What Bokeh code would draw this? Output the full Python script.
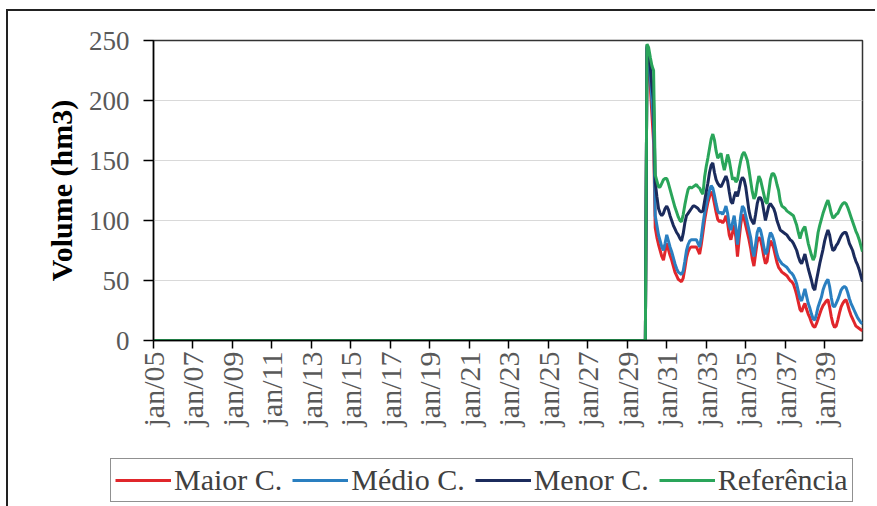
import math
from bokeh.plotting import figure
from bokeh.layouts import column, row
from bokeh.models import FixedTicker, Legend, LegendItem, Range1d
from bokeh.embed import file_html
from bokeh.resources import INLINE

# jan/05 .. dec/29: all series at zero
zero_months = 300
zeros = [0] * zero_months

# jan/30 .. dec/40, one row per year
referencia = [
    247, 244, 236, 229, 225, 138, 133, 128, 128, 131, 134, 135,
    135, 131, 126, 121, 116, 111, 107, 103, 100, 99, 105, 113,
    120, 126, 128, 127, 128, 129, 130, 128, 127, 124, 122, 136,
    145, 152, 160, 168, 172, 167, 158, 152, 154, 156, 148, 142,
    148, 155, 150, 142, 134, 136, 132, 134, 143, 150, 155, 157,
    154, 150, 142, 133, 124, 118, 121, 130, 137, 134, 128, 122,
    116, 114, 124, 134, 139, 139, 136, 130, 125, 116, 112, 111,
    110, 108, 107, 106, 105, 104, 100, 96, 90, 85, 90, 93,
    95, 88, 81, 76, 71, 67, 70, 80, 90, 96, 101, 106,
    110, 114, 117, 112, 106, 102, 103, 105, 106, 109, 112, 114,
    115, 114, 111, 107, 103, 99, 95, 91, 88, 84, 79, 74,
]
menor = [
    246, 240, 228, 212, 200, 132, 120, 110, 106, 104, 106, 110,
    112, 109, 104, 100, 96, 93, 90, 88, 85, 83, 89, 98,
    104, 106, 108, 110, 112, 112, 111, 110, 108, 107, 108, 116,
    124, 131, 140, 146, 148, 140, 134, 131, 129, 128, 131, 134,
    137, 133, 124, 116, 114, 120, 124, 120, 126, 133, 136, 134,
    128, 118, 108, 102, 99, 97, 105, 114, 119, 119, 116, 108,
    100, 106, 112, 114, 112, 110, 106, 100, 96, 92, 91, 90,
    89, 88, 86, 84, 83, 81, 78, 75, 70, 66, 64, 68,
    72, 66, 60, 55, 50, 44, 42, 50, 57, 64, 70, 76,
    83, 88, 92, 88, 80, 75, 76, 79, 81, 84, 87, 89,
    90, 90, 86, 81, 78, 75, 70, 66, 63, 59, 54, 49,
]
medio = [
    245, 236, 220, 200, 180, 104, 96, 88, 83, 78, 75, 81,
    88, 83, 78, 74, 69, 64, 60, 57, 56, 55, 58, 66,
    75, 80, 83, 84, 84, 84, 84, 81, 78, 86, 97, 106,
    113, 120, 125, 129, 127, 121, 114, 108, 106, 107, 105, 108,
    112, 106, 96, 92, 98, 104, 94, 80, 92, 104, 112, 110,
    104, 98, 92, 86, 76, 70, 80, 90, 94, 92, 86, 78,
    72, 74, 84, 90, 88, 84, 78, 72, 68, 66, 64, 63,
    62, 61, 59, 57, 56, 54, 51, 47, 41, 35, 33, 38,
    43, 37, 31, 27, 22, 18, 17, 22, 28, 32, 36, 42,
    46, 49, 51, 45, 36, 29, 28, 31, 34, 38, 42, 44,
    45, 44, 40, 35, 31, 28, 25, 22, 19, 17, 15, 14,
]
maior = [
    244, 232, 212, 188, 165, 94, 86, 80, 75, 70, 67, 74,
    81, 76, 71, 67, 62, 57, 54, 51, 50, 49, 52, 60,
    69, 74, 77, 78, 78, 78, 78, 75, 72, 80, 90, 100,
    108, 115, 120, 124, 121, 114, 107, 101, 99, 100, 98, 100,
    104, 98, 88, 84, 90, 96, 86, 70, 84, 97, 105, 102,
    96, 90, 84, 77, 68, 62, 72, 82, 86, 84, 78, 70,
    64, 66, 76, 83, 81, 77, 71, 65, 61, 59, 57, 56,
    55, 54, 52, 50, 49, 47, 43, 38, 32, 26, 24, 28,
    31, 26, 22, 19, 15, 12, 11, 14, 18, 22, 26, 29,
    31, 33, 34, 28, 20, 14, 11, 12, 17, 23, 28, 31,
    33, 34, 30, 25, 21, 18, 15, 12, 11, 10, 9, 8,
]

tick_labels = ["jan/05", "jan/07", "jan/09", "jan/11", "jan/13", "jan/15",
               "jan/17", "jan/19", "jan/21", "jan/23", "jan/25", "jan/27",
               "jan/29", "jan/31", "jan/33", "jan/35", "jan/37", "jan/39"]
y_ticks = [0, 50, 100, 150, 200, 250]

series_names = ["Maior C.", "Médio C.", "Menor C.", "Referência"]
series_vals = [maior, medio, menor, referencia]
series_colors = ["#e0262b", "#2a7fc0", "#1b2b5c", "#2aa55a"]

n_months = zero_months + len(referencia)
x = list(range(n_months))
tick_pos = [k * 24 for k in range(len(tick_labels))]

SERIF = "Liberation Serif"
LEGEND_FONT = "Times New Roman"
W = 867

p = figure(width=W, height=440, output_backend="svg", toolbar_location=None,
           x_range=Range1d(0, n_months - 1), y_range=Range1d(0, 250),
           min_border_left=145, min_border_right=13, min_border_top=29,
           min_border_bottom=111)
p.outline_line_color = "#333333"
p.outline_line_width = 1.5
p.background_fill_color = "white"
p.border_fill_color = "white"

p.xgrid.visible = False
p.ygrid.grid_line_color = "#d9d9d9"
p.ygrid.grid_line_width = 1.2
p.ygrid.ticker = FixedTicker(ticks=y_ticks)

p.xaxis.ticker = FixedTicker(ticks=tick_pos)
p.xaxis.major_label_overrides = {t: l for t, l in zip(tick_pos, tick_labels)}
p.xaxis.major_label_orientation = math.pi / 2
p.xaxis.major_tick_out = 8
p.xaxis.major_tick_in = 0
p.xaxis.minor_tick_line_color = None
p.xaxis.major_label_text_font = SERIF
p.xaxis.major_label_text_font_size = "30px"
p.xaxis.major_label_text_color = "#595959"
p.xaxis.major_label_standoff = 3
p.xaxis.axis_line_color = "black"
p.xaxis.axis_line_width = 1.5
p.xaxis.major_tick_line_color = "black"
p.xaxis.major_tick_line_width = 1.5

p.yaxis.ticker = FixedTicker(ticks=y_ticks)
p.yaxis.major_tick_out = 10
p.yaxis.major_tick_in = 0
p.yaxis.minor_tick_line_color = None
p.yaxis.major_label_text_font = SERIF
p.yaxis.major_label_text_font_size = "27px"
p.yaxis.major_label_text_color = "#595959"
p.yaxis.major_label_standoff = 14
p.yaxis.axis_line_color = "black"
p.yaxis.axis_line_width = 1.5
p.yaxis.major_tick_line_color = "black"
p.yaxis.major_tick_line_width = 1.5
p.yaxis.axis_label = "Volume (hm3)"
p.yaxis.axis_label_text_font = SERIF
p.yaxis.axis_label_text_font_style = "bold"
p.yaxis.axis_label_text_font_size = "30px"
p.yaxis.axis_label_text_color = "black"
p.yaxis.axis_label_standoff = 8

for vals, col in zip(series_vals, series_colors):
    p.line(x, zeros + vals, line_color=col, line_width=3)

# legend strip below the chart (stand-in renderers carry only the styles)
pl = figure(width=W, height=55, output_backend="svg", toolbar_location=None,
            x_range=Range1d(0, 1), y_range=Range1d(0, 1),
            x_axis_type=None, y_axis_type=None, min_border=0)
pl.outline_line_color = None
pl.grid.visible = False
pl.background_fill_color = "white"
pl.border_fill_color = "white"
items = []
for name, col in zip(series_names, series_colors):
    r = pl.line([float("nan")], [float("nan")], line_color=col, line_width=3)
    items.append(LegendItem(label=name, renderers=[r]))

legend = Legend(items=items, orientation="horizontal", location=(102, 4),
                label_text_font=LEGEND_FONT, label_text_font_size="30px",
                label_text_color="#404040", glyph_width=56, glyph_height=20,
                label_standoff=3, spacing=10, padding=4, margin=0,
                border_line_color="#222222", border_line_width=1.8,
                background_fill_alpha=1)
pl.add_layout(legend)

layout = column(p, row(pl), spacing=0)
layout.styles = {"border-top": "2px solid #222", "border-left": "2px solid #222",
                 "margin-left": "6px", "margin-top": "9px"}

open("out.html", "w").write(file_html(layout, INLINE))
